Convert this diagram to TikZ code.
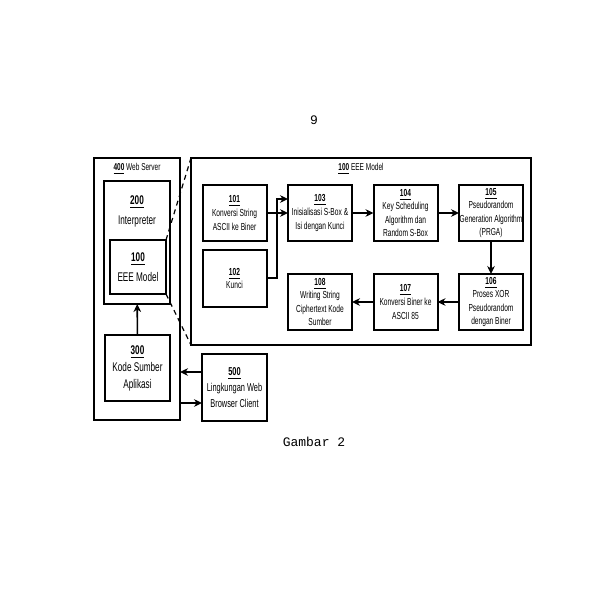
\documentclass[tikz,border=0pt]{standalone}
\usepackage{fontspec}
\setmainfont[FakeStretch=0.65]{Liberation Sans}
\setmonofont{Liberation Mono}
\usetikzlibrary{arrows.meta}
\newcommand{\nb}[1]{\underline{\bfseries #1}}
\begin{document}
\begin{tikzpicture}[x=0.5pt,y=-0.5pt,
  frame/.style={draw=black,line width=1pt,inner sep=0pt,outer sep=0pt},
  sbox/.style={frame,minimum width=32pt,minimum height=28pt,align=center,
    font=\fontsize{5.1}{6.8}\selectfont},
  bbox/.style={frame,align=center,font=\fontsize{6.3}{8.5}\selectfont},
  lab/.style={font=\fontsize{5}{5.5}\selectfont,inner sep=0pt},
  arr/.style={line width=0.8pt,-{Stealth[length=4pt,width=3.8pt]}},
  dsh/.style={line width=0.6pt,dash pattern=on 2.5pt off 2pt}]
\useasboundingbox (0,0) rectangle (600,600);
% outer containers
\node[frame,minimum width=43pt,minimum height=131pt] (web) at (137,289) {};
\node[lab] (weblab) at (137,169) {\nb{400} Web Server};
\node[frame,minimum width=170pt,minimum height=93.5pt] (eee) at (361,251.5) {};
\node[lab] (eeelab) at (361,169) {\nb{100} EEE Model};
% left column
\node[frame,minimum width=33pt,minimum height=61.5pt] (interp) at (137,242.5) {};
\node[font=\fontsize{6.3}{8.5}\selectfont,align=center,inner sep=0pt] (interptxt) at (137,211) {\nb{200}\\[1.5pt]Interpreter};
\node[bbox,minimum width=28pt,minimum height=27pt] (inner) at (138,267) {\nb{100}\\[1.5pt]EEE Model};
\node[bbox,minimum width=32.5pt,minimum height=33pt] (kode) at (137.5,368) {\nb{300}\\Kode Sumber\\Aplikasi};
\node[frame,align=center,minimum width=32.5pt,minimum height=33.5pt,
  font=\fontsize{5.7}{8}\selectfont] (browser) at (234.5,387.5) {\nb{500}\\Lingkungan Web\\Browser Client};
% process boxes
\node[sbox] (b101) at (234.5,213) {\nb{101}\\Konversi String\\ASCII ke Biner};
\node[sbox,minimum height=28.5pt] (b102) at (234.5,278.5) {\nb{102}\\Kunci};
\node[sbox] (b103) at (320,213) {\nb{103}\\Inisialisasi S-Box \&\\Isi dengan Kunci};
\node[sbox] (b104) at (405.5,213) {\nb{104}\\Key Scheduling\\Algorithm dan\\Random S-Box};
\node[sbox] (b105) at (491,213) {\nb{105}\\Pseudorandom\\Generation Algorithm\\(PRGA)};
\node[sbox] (b106) at (491,302) {\nb{106}\\Proses XOR\\Pseudorandom\\dengan Biner};
\node[sbox] (b107) at (405.5,302) {\nb{107}\\Konversi Biner ke\\ASCII 85};
\node[sbox] (b108) at (320,302) {\nb{108}\\Writing String\\Ciphertext Kode\\Sumber};
% connectors
\draw[arr] (b101) -- (b103);
\coordinate (j102) at (277,278);
\draw[arr] (b102.east |- j102) -- (j102) |- ([yshift=7pt]b103.west);
\draw[arr] (b103) -- (b104);
\draw[arr] (b104) -- (b105);
\draw[arr] (b105) -- (b106);
\draw[arr] (b106) -- (b107);
\draw[arr] (b107) -- (b108);
\draw[arr] (kode) -- (interp);
\coordinate (ya) at (0,372);
\coordinate (yb) at (0,403);
\draw[arr] (browser.west |- ya) -- (web.east |- ya);
\draw[arr] (web.east |- yb) -- (browser.west |- yb);
\draw[dsh] (inner.north east) -- (eee.north west);
\draw[dsh] (inner.south east) -- (eee.south west);
% page texts
\node[font=\ttfamily\fontsize{6.5}{8}\selectfont] (pg) at (314,120) {9};
\node[font=\ttfamily\fontsize{6.5}{8}\selectfont] (cap) at (314,442) {Gambar 2};
\end{tikzpicture}
\end{document}
